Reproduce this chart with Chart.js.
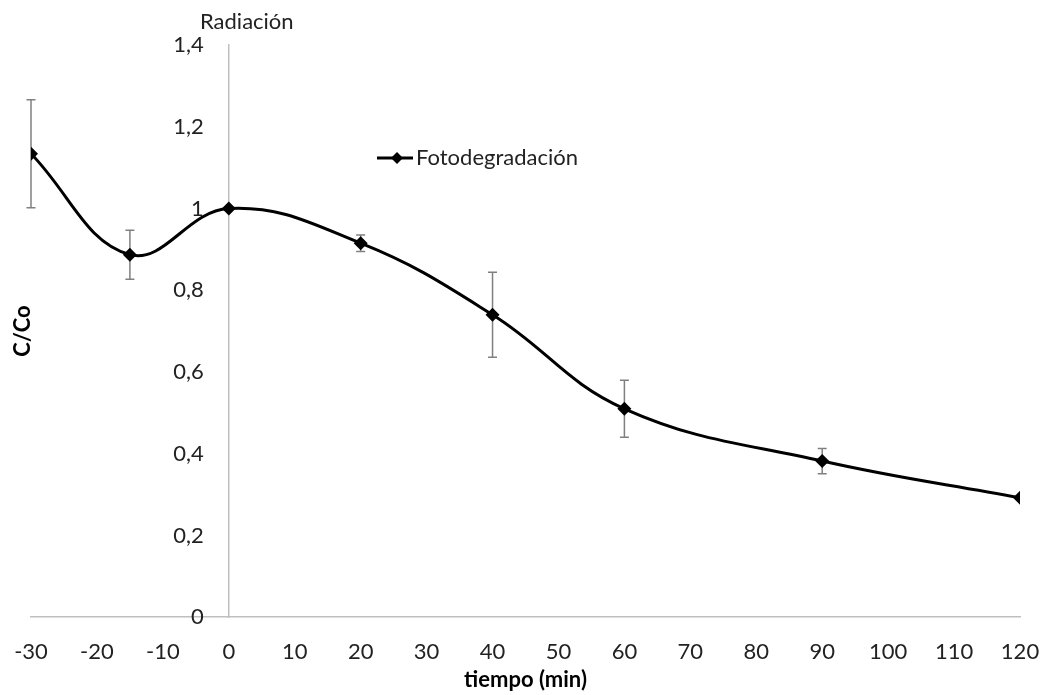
<!DOCTYPE html>
<html>
<head>
<meta charset="utf-8">
<script src="https://cdn.jsdelivr.net/npm/chart.js@4"></script>
<style>
  html, body { margin: 0; padding: 0; background: #fff; }
  #wrap { width: 1048px; height: 695px; position: relative; }
</style>
</head>
<body>
<div id="wrap"><canvas id="myChart"></canvas></div>
<script>
// data
const tiempo = [-30, -15, 0, 20, 40, 60, 90, 120];
const cCo = [1.134, 0.887, 1.0, 0.915, 0.74, 0.51, 0.382, 0.292];
const errores = [0.132, 0.06, 0, 0.02, 0.104, 0.07, 0.031, 0];
const serieNombre = 'Fotodegradación';
const xTitulo = 'tiempo (min)';
const yTitulo = 'C/Co';
const marcaTexto = 'Radiación';

const FONT = 'Lato, "Open Sans", sans-serif';
const GRIS = '#bfbfbf';
const fmt = v => String(Math.round(v * 10) / 10).replace('.', ',');

// error bars, y labels/title, "Radiación" label and the legend inside the plot
const extras = {
    id: 'extras',
    beforeDatasetsDraw(chart) {
        const {ctx, scales: {x, y}} = chart;
        ctx.save();
        ctx.strokeStyle = '#808080';
        ctx.lineWidth = 1.5;
        tiempo.forEach((t, i) => {
            const e = errores[i];
            if (!e) return;
            const px = x.getPixelForValue(t);
            const top = y.getPixelForValue(cCo[i] + e);
            const bot = y.getPixelForValue(cCo[i] - e);
            ctx.beginPath();
            ctx.moveTo(px, top); ctx.lineTo(px, bot);
            ctx.moveTo(px - 4.5, top); ctx.lineTo(px + 4.5, top);
            ctx.moveTo(px - 4.5, bot); ctx.lineTo(px + 4.5, bot);
            ctx.stroke();
        });
        ctx.restore();
    },
    afterDraw(chart) {
        const {ctx, scales: {x, y}} = chart;
        const x0 = x.getPixelForValue(0);
        ctx.save();
        ctx.fillStyle = '#222';
        ctx.textBaseline = 'middle';

        // etiquetas del eje y (el eje esta en x = 0)
        ctx.font = '22px ' + FONT;
        ctx.textAlign = 'right';
        y.ticks.forEach(t => {
            ctx.fillText(fmt(t.value), x0 - 25, y.getPixelForValue(t.value));
        });

        // texto sobre el eje vertical
        ctx.textAlign = 'center';
        ctx.fillText(marcaTexto, x0 + 18, 22);

        // titulo eje y
        ctx.fillStyle = '#000';
        ctx.font = 'bold 22px ' + FONT;
        ctx.translate(23, (y.top + y.bottom) / 2);
        ctx.rotate(-Math.PI / 2);
        ctx.fillText(yTitulo, 0, 0);
        ctx.setTransform(1, 0, 0, 1, 0, 0);

        // leyenda
        const ly = 158, lx = 377;
        ctx.strokeStyle = '#000';
        ctx.lineWidth = 3;
        ctx.beginPath();
        ctx.moveTo(lx, ly); ctx.lineTo(lx + 36, ly);
        ctx.stroke();
        ctx.beginPath();
        const cx = lx + 20, r = 6;
        ctx.moveTo(cx, ly - r); ctx.lineTo(cx + r, ly); ctx.lineTo(cx, ly + r); ctx.lineTo(cx - r, ly);
        ctx.closePath();
        ctx.fill();
        ctx.font = '22px ' + FONT;
        ctx.textAlign = 'left';
        ctx.fillStyle = '#222';
        ctx.fillText(serieNombre, lx + 39, ly);
        ctx.restore();
    }
};

new Chart(document.getElementById('myChart').getContext('2d'), {
    type: 'line',
    data: {
        datasets: [{
            label: serieNombre,
            data: tiempo.map((t, i) => ({x: t, y: cCo[i]})),
            borderColor: '#000',
            backgroundColor: '#000',
            borderWidth: 3,
            tension: 0.4,
            pointStyle: 'rectRot',
            pointRadius: 7,
            pointHoverRadius: 7,
            pointBorderWidth: 0,
            fill: false
        }]
    },
    options: {
        responsive: true,
        maintainAspectRatio: false,
        animation: false,
        layout: { padding: { left: 31, right: 28, top: 45, bottom: 0 } },
        plugins: {
            legend: { display: false },
            tooltip: { enabled: false }
        },
        scales: {
            x: {
                type: 'linear',
                min: -30,
                max: 120,
                // invisible tick marks just to push the labels down
                grid: {
                    display: true,
                    drawOnChartArea: false,
                    drawTicks: true,
                    tickLength: 19,
                    color: 'rgba(0,0,0,0)',
                    tickColor: 'rgba(0,0,0,0)'
                },
                border: { display: true, color: GRIS, width: 1.5 },
                ticks: {
                    stepSize: 10,
                    padding: 3,
                    color: '#222',
                    font: { family: FONT, size: 22 }
                },
                title: {
                    display: true,
                    text: xTitulo,
                    color: '#000',
                    padding: { top: -2, bottom: 2 },
                    font: { family: FONT, size: 22, weight: 'bold' }
                }
            },
            y: {
                position: { x: 0 },
                min: 0,
                max: 1.4,
                grid: { display: false, drawTicks: false },
                border: { display: true, color: GRIS, width: 1.5 },
                ticks: {
                    stepSize: 0.2,
                    display: false
                }
            }
        }
    },
    plugins: [extras]
});
</script>
</body>
</html>
